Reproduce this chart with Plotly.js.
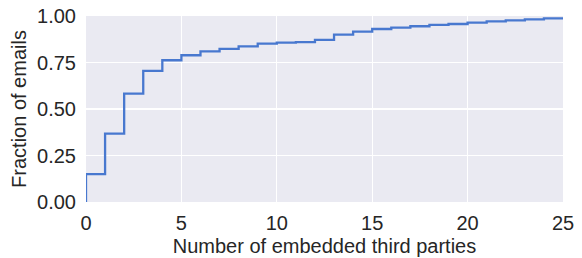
<!DOCTYPE html>
<html>
<head>
<meta charset="utf-8">
<script src="https://cdn.plot.ly/plotly-3.0.1.min.js"></script>
<style>html,body{margin:0;padding:0;background:#fff;}#chart{width:582px;height:258px;}</style>
</head>
<body>
<div id="chart"></div>
<script>
// Number of embedded third parties (step positions)
const thirdParties = [0, 0, 1, 2, 3, 4, 5, 6, 7, 8, 9, 10, 11, 12, 13, 14, 15, 16, 17, 18, 19, 20, 21, 22, 23, 24, 25];
// Cumulative fraction of emails
const fractionEmails = [0, 0.150, 0.368, 0.583, 0.705, 0.762, 0.789, 0.810, 0.823, 0.837, 0.852, 0.857, 0.860, 0.872, 0.900, 0.916, 0.930, 0.937, 0.945, 0.952, 0.957, 0.964, 0.971, 0.977, 0.982, 0.987, 0.990];
const xTicks = [0, 5, 10, 15, 20, 25];
const yTicks = [0, 0.25, 0.5, 0.75, 1.0];
const yTickText = ["0.00", "0.25", "0.50", "0.75", "1.00"];

const trace = {
  x: thirdParties,
  y: fractionEmails,
  type: 'scatter',
  mode: 'lines',
  line: {shape: 'hv', color: '#4878CF', width: 2.3},
  hoverinfo: 'skip'
};

const font = {family: 'Arial, "Liberation Sans", sans-serif', size: 20, color: '#262626'};

const layout = {
  width: 582,
  height: 258,
  margin: {l: 86, r: 19, t: 16, b: 56},
  paper_bgcolor: '#ffffff',
  plot_bgcolor: '#EAEAF2',
  showlegend: false,
  font: font,
  xaxis: {
    range: [0, 25],
    tickvals: xTicks,
    ticktext: xTicks.map(String),
    showgrid: true,
    gridcolor: '#ffffff',
    gridwidth: 1.3,
    zeroline: false,
    showline: false,
    ticks: '',
    ticklabelstandoff: 7,
    tickfont: font,
    title: {text: 'Number of embedded third parties', font: font, standoff: 5}
  },
  yaxis: {
    range: [0, 1.0],
    tickvals: yTicks,
    ticktext: yTickText,
    showgrid: true,
    gridcolor: '#ffffff',
    gridwidth: 1.3,
    zeroline: false,
    showline: false,
    ticks: '',
    ticklabelstandoff: 9,
    tickfont: font,
    title: {text: 'Fraction of emails', font: font, standoff: 5}
  }
};

Plotly.newPlot('chart', [trace], layout, {staticPlot: true, displayModeBar: false});
</script>
</body>
</html>
